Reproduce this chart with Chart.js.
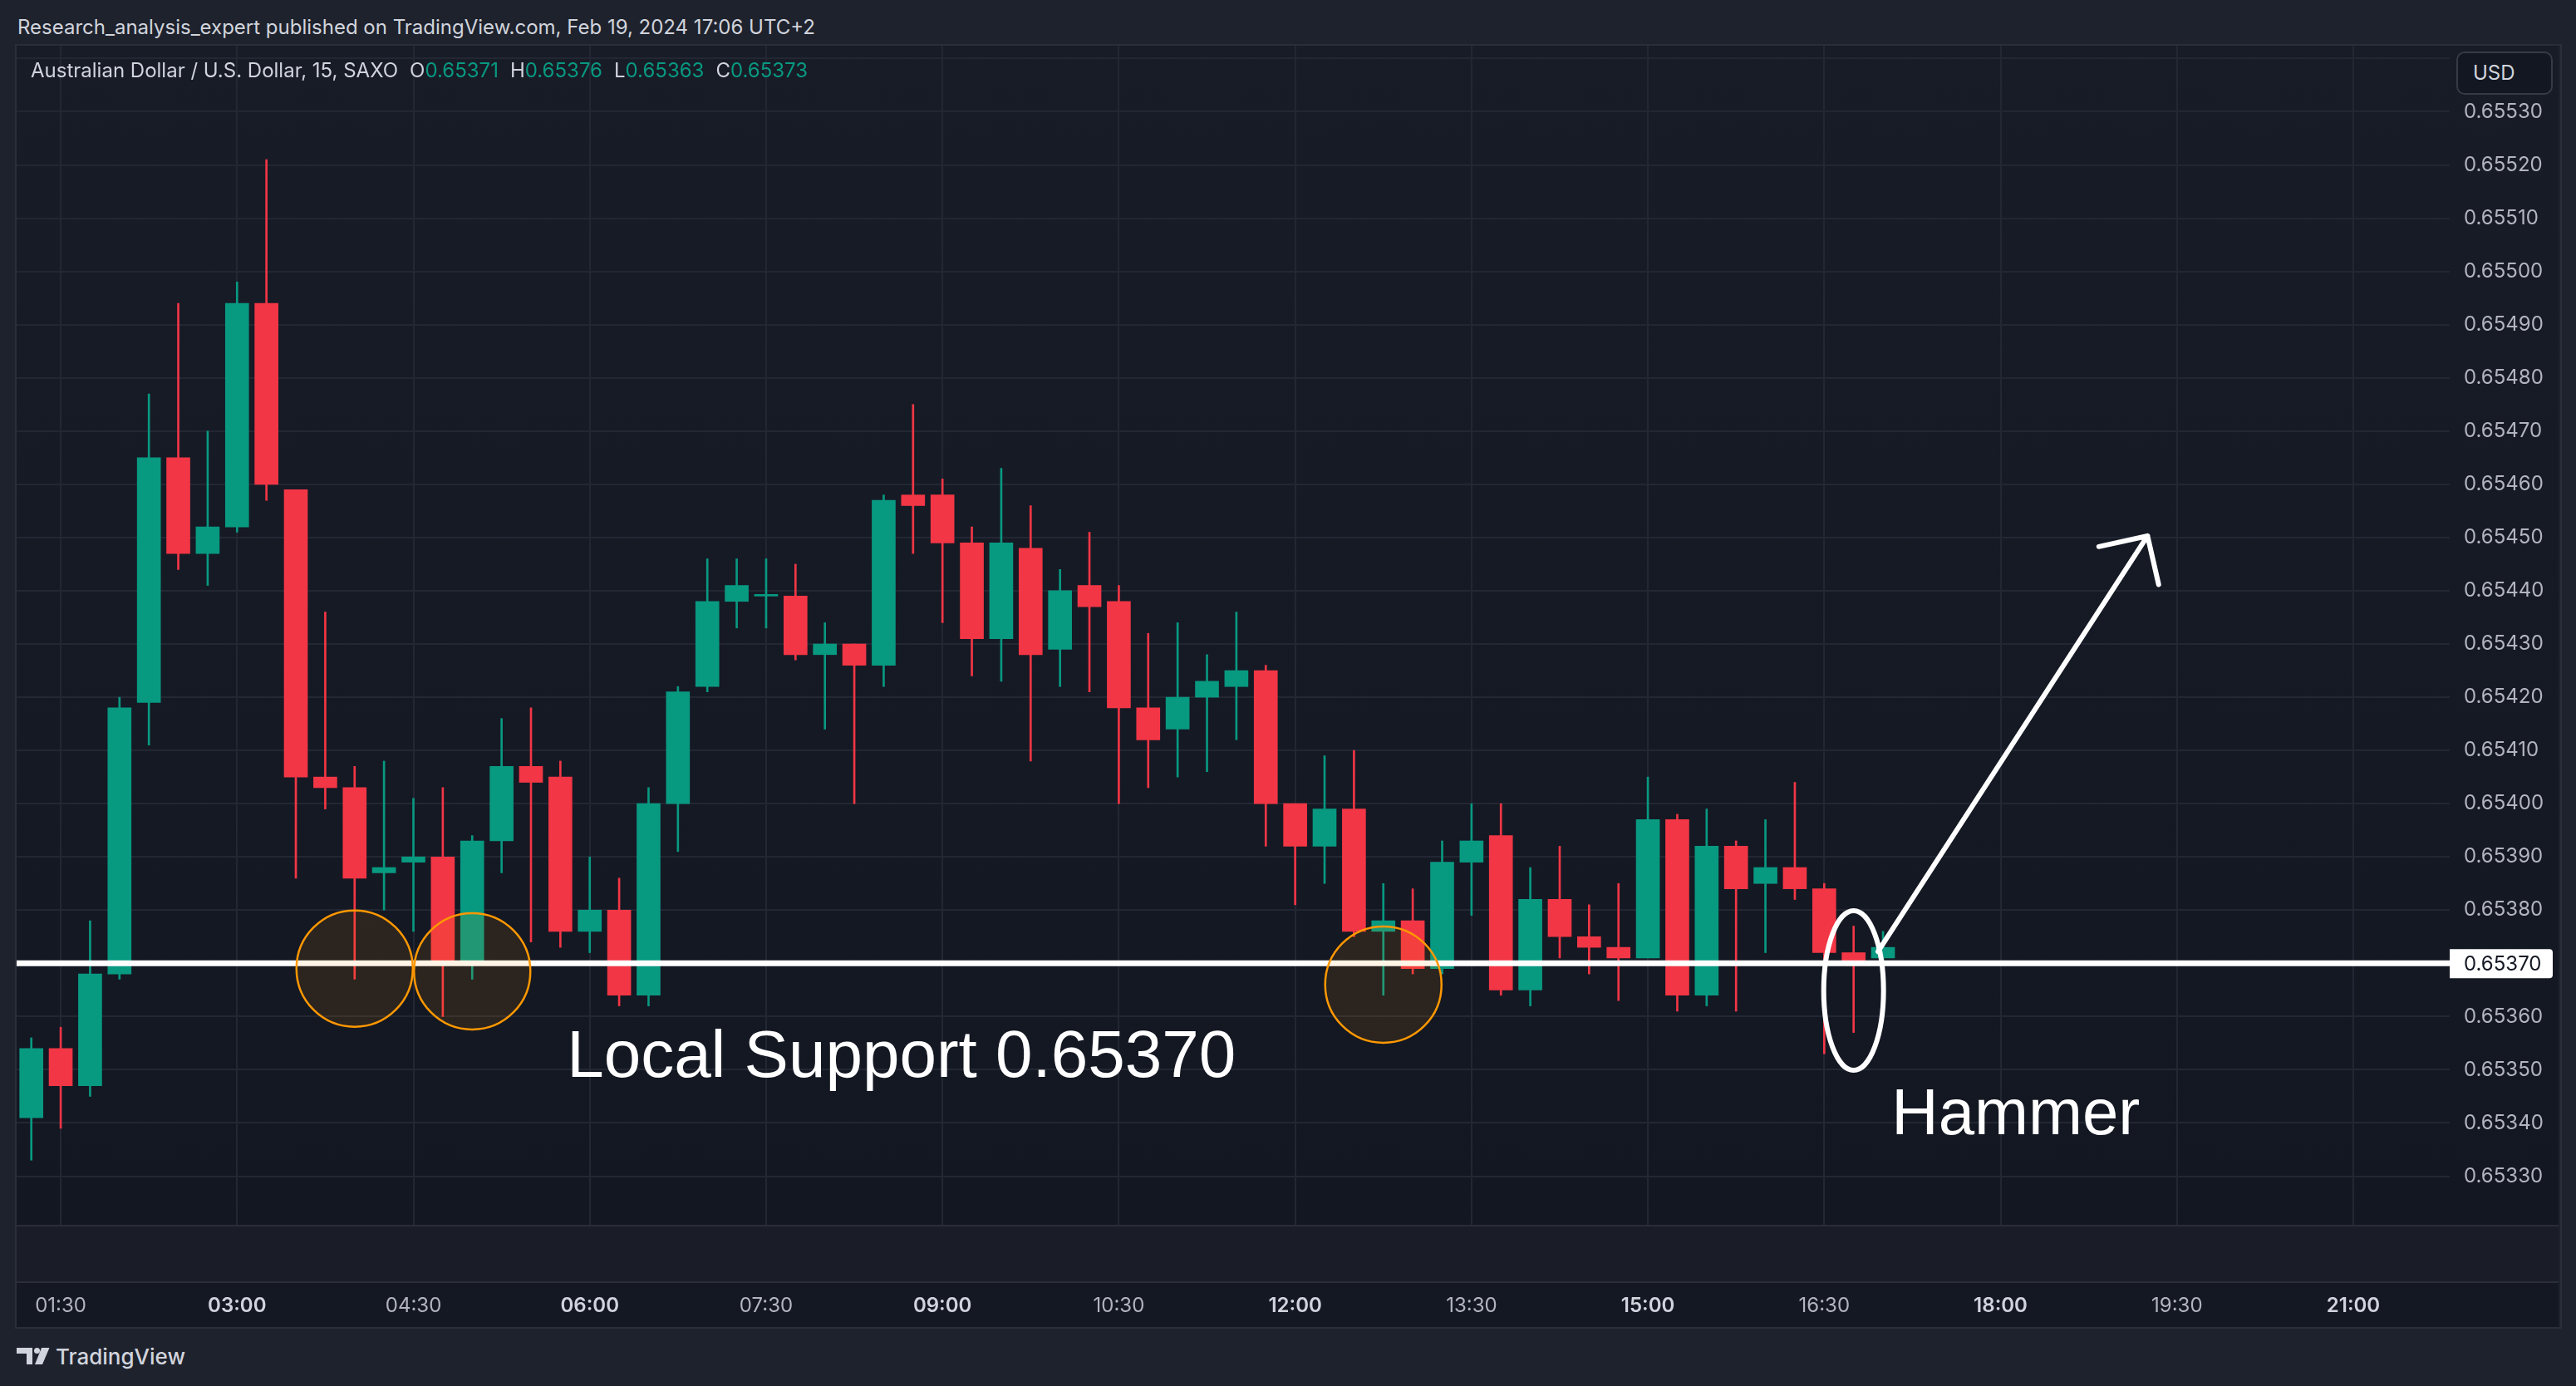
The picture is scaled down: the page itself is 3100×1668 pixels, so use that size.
<!DOCTYPE html>
<html>
<head>
<meta charset="utf-8">
<script src="https://cdn.jsdelivr.net/npm/chart.js@4.4.1/dist/chart.umd.min.js"></script>
<style>
  html, body { margin: 0; padding: 0; }
  body { width: 3100px; height: 1668px; background: #1e222d; position: relative; overflow: hidden; font-family: Inter, "Noto Sans", sans-serif; }
  .abs { position: absolute; }
  #header { left: 21px; top: 19px; font-size: 24px; line-height: 28px; color: #d1d4dc; white-space: nowrap; }
  #frame { left: 18px; top: 53px; width: 3061px; height: 1542px; border: 2px solid #2a2e39; }
  #pane { left: 20px; top: 55px; width: 3059px; height: 1419px; background: linear-gradient(#181c27, #131722); }
  .hline { left: 20px; width: 3059px; height: 2px; background: #2a2e39; }
  #subpane { left: 20px; top: 1476px; width: 3059px; height: 66px; background: #1a1d28; }
  #timeaxis { left: 20px; top: 1544px; width: 3059px; height: 53px; background: #141823; }
  #legend { left: 37px; top: 71px; font-size: 24px; line-height: 28px; color: #d1d4dc; white-space: nowrap; }
  #legend .v { color: #089981; }
  #legend .g { margin-left: 14px; }
  #usd { left: 2956px; top: 62px; width: 116px; height: 52px; box-sizing: border-box; border: 2px solid #363a45; border-radius: 10px; background: #131722; color: #d1d4dc; font-size: 24px; line-height: 48px; padding-left: 18px; }
  #chart { left: 20px; top: 55px; }
  #logo { left: 20px; top: 1622px; }
  #logotext { left: 67px; top: 1618px; font-size: 26px; line-height: 30px; font-weight: 500; color: #d1d4dc; }
</style>
</head>
<body>
<div id="header" class="abs">Research_analysis_expert published on TradingView.com, Feb 19, 2024 17:06 UTC+2</div>
<div id="frame" class="abs"></div>
<div id="pane" class="abs"></div>
<div class="abs hline" style="top:1474px"></div>
<div id="subpane" class="abs"></div>
<div class="abs hline" style="top:1542px"></div>
<div id="timeaxis" class="abs"></div>
<canvas id="chart" class="abs" width="3060" height="1542"></canvas>
<div id="legend" class="abs">Australian Dollar / U.S. Dollar, 15, SAXO<span class="g">O<span class="v">0.65371</span></span><span class="g">H<span class="v">0.65376</span></span><span class="g">L<span class="v">0.65363</span></span><span class="g">C<span class="v">0.65373</span></span></div>
<div id="usd" class="abs">USD</div>
<svg id="logo" class="abs" width="40" height="20" viewBox="0 0 40 20">
  <path d="M0 0H19V20H12V7H0Z" fill="#d1d4dc"/>
  <circle cx="24.5" cy="3.5" r="3.5" fill="#d1d4dc"/>
  <path d="M30 0H39.5L31 20H22Z" fill="#d1d4dc"/>
</svg>
<div id="logotext" class="abs">TradingView</div>

<script>
// 15 minute candles, AUD/USD (SAXO), Feb 19 2024
const times = ["01:15","01:30","01:45","02:00","02:15","02:30","02:45","03:00","03:15","03:30","03:45",
  "04:00","04:15","04:30","04:45","05:00","05:15","05:30","05:45","06:00","06:15","06:30","06:45",
  "07:00","07:15","07:30","07:45","08:00","08:15","08:30","08:45","09:00","09:15","09:30","09:45",
  "10:00","10:15","10:30","10:45","11:00","11:15","11:30","11:45","12:00","12:15","12:30","12:45",
  "13:00","13:15","13:30","13:45","14:00","14:15","14:30","14:45","15:00","15:15","15:30","15:45",
  "16:00","16:15","16:30","16:45","17:00"];

const opens = [0.65341,0.65354,0.65347,0.65368,0.65419,0.65465,0.65447,0.65452,0.65494,0.65459,
  0.65405,0.65403,0.65387,0.65389,0.65390,0.65370,0.65393,0.65407,0.65405,0.65376,
  0.65380,0.65364,0.65400,0.65422,0.65438,0.65439,0.65439,0.65428,0.65430,0.65426,
  0.65458,0.65458,0.65449,0.65431,0.65448,0.65429,0.65441,0.65438,0.65418,0.65414,
  0.65420,0.65422,0.65425,0.65400,0.65392,0.65399,0.65376,0.65378,0.65369,0.65389,
  0.65394,0.65365,0.65382,0.65375,0.65373,0.65371,0.65397,0.65364,0.65392,0.65385,
  0.65388,0.65384,0.65372,0.65371];
const highs = [0.65356,0.65358,0.65378,0.65420,0.65477,0.65494,0.65470,0.65498,0.65521,0.65459,
  0.65436,0.65407,0.65408,0.65401,0.65403,0.65394,0.65416,0.65418,0.65408,0.65390,
  0.65386,0.65403,0.65422,0.65446,0.65446,0.65446,0.65445,0.65434,0.65430,0.65458,
  0.65475,0.65461,0.65452,0.65463,0.65456,0.65444,0.65451,0.65441,0.65432,0.65434,
  0.65428,0.65436,0.65426,0.65400,0.65409,0.65410,0.65385,0.65384,0.65393,0.65400,
  0.65400,0.65388,0.65392,0.65381,0.65385,0.65405,0.65398,0.65399,0.65393,0.65397,
  0.65404,0.65385,0.65377,0.65376];
const lows = [0.65333,0.65339,0.65345,0.65367,0.65411,0.65444,0.65441,0.65451,0.65457,0.65386,
  0.65399,0.65367,0.65380,0.65376,0.65360,0.65367,0.65387,0.65374,0.65373,0.65372,
  0.65362,0.65362,0.65391,0.65421,0.65433,0.65433,0.65427,0.65414,0.65400,0.65422,
  0.65447,0.65434,0.65424,0.65423,0.65408,0.65422,0.65421,0.65400,0.65403,0.65405,
  0.65406,0.65412,0.65392,0.65381,0.65385,0.65375,0.65364,0.65368,0.65368,0.65379,
  0.65364,0.65362,0.65371,0.65368,0.65363,0.65371,0.65361,0.65362,0.65361,0.65372,
  0.65382,0.65353,0.65357,0.65363];
const closes = [0.65354,0.65347,0.65368,0.65418,0.65465,0.65447,0.65452,0.65494,0.65460,0.65405,
  0.65403,0.65386,0.65388,0.65390,0.65370,0.65393,0.65407,0.65404,0.65376,0.65380,
  0.65364,0.65400,0.65421,0.65438,0.65441,0.65439,0.65428,0.65430,0.65426,0.65457,
  0.65456,0.65449,0.65431,0.65449,0.65428,0.65440,0.65437,0.65418,0.65412,0.65420,
  0.65423,0.65425,0.65400,0.65392,0.65399,0.65376,0.65378,0.65369,0.65389,0.65393,
  0.65365,0.65382,0.65375,0.65373,0.65371,0.65397,0.65364,0.65392,0.65384,0.65388,
  0.65384,0.65372,0.65370,0.65373];

// axis labels (time ticks sit on candle slots, every 6th bar from 01:30)
const timeTicks = ["01:30","03:00","04:30","06:00","07:30","09:00","10:30","12:00","13:30","15:00","16:30","18:00","19:30","21:00"];
const timeSlots = [1,7,13,19,25,31,37,43,49,55,61,67,73,79];
const majorTicks = ["03:00","06:00","09:00","12:00","15:00","18:00","21:00"];
const priceTicks = [0.6533,0.6534,0.6535,0.6536,0.6537,0.6538,0.6539,0.6540,0.6541,0.6542,0.6543,
  0.6544,0.6545,0.6546,0.6547,0.6548,0.6549,0.6550,0.6551,0.6552,0.6553,0.6554];
const hiddenPriceLabels = [0.6554]; // sits under the USD badge

// drawings on the chart
const supportLevel = 0.6537;
const touchSlots = [11, 15, 46];
const touchPrices = [0.65369, 0.653685, 0.65366];
const hammerMark = [62, 0.653649];
const arrowFrom = [62.83, 0.653722];
const arrowTo = [72.0, 0.654503];
const supportText = ["Local Support 0.65370", 18.22, 0.653487, 80];
const hammerText = ["Hammer", 63.29, 0.653379, 78];

const GREEN = "#089981";
const RED = "#f23645";
const candleColors = closes.map((c, i) => c >= opens[i] ? GREEN : RED);

const xMin = -0.5, xMax = 82.28;
const yMin = 0.6532087, yMax = 0.6554241;

const noPadding = s => { s.paddingLeft = s.paddingRight = s.paddingTop = s.paddingBottom = 0; };

const drawings = {
  id: "drawings",
  afterDatasetsDraw(chart) {
    const { ctx, scales: { x, y } } = chart;
    ctx.save();
    ctx.strokeStyle = "#ffffff";
    ctx.lineWidth = 6;
    ctx.lineCap = "round";
    ctx.lineJoin = "round";

    // hammer ellipse
    ctx.beginPath();
    ctx.ellipse(x.getPixelForValue(hammerMark[0]), y.getPixelForValue(hammerMark[1]), 36, 96, 0, 0, Math.PI * 2);
    ctx.stroke();

    // arrow
    const x0 = x.getPixelForValue(arrowFrom[0]), y0 = y.getPixelForValue(arrowFrom[1]);
    const x1 = x.getPixelForValue(arrowTo[0]), y1 = y.getPixelForValue(arrowTo[1]);
    const back = Math.atan2(y0 - y1, x0 - x1);
    ctx.beginPath();
    ctx.moveTo(x0, y0);
    ctx.lineTo(x1, y1);
    ctx.moveTo(x1 + 60 * Math.cos(back + 0.78), y1 + 60 * Math.sin(back + 0.78));
    ctx.lineTo(x1, y1);
    ctx.lineTo(x1 + 60 * Math.cos(back - 0.8), y1 + 60 * Math.sin(back - 0.8));
    ctx.stroke();

    // text labels
    ctx.fillStyle = "#ffffff";
    ctx.textBaseline = "alphabetic";
    ctx.textAlign = "left";
    [supportText, hammerText].forEach(t => {
      ctx.font = t[3] + 'px "Liberation Sans"';
      ctx.fillText(t[0], x.getPixelForValue(t[1]), y.getPixelForValue(t[2]));
    });
    ctx.restore();
  },
  afterDraw(chart) {
    const { ctx, chartArea, scales: { y } } = chart;
    const py = y.getPixelForValue(supportLevel);
    ctx.save();
    ctx.fillStyle = "#ffffff";
    ctx.beginPath();
    ctx.roundRect(chartArea.right, py - 17, 124, 35, [0, 4, 4, 0]);
    ctx.fill();
    ctx.fillStyle = "#131722";
    ctx.font = "24px Inter";
    ctx.textBaseline = "middle";
    ctx.fillText(supportLevel.toFixed(5), chartArea.right + 17, py + 1);
    ctx.restore();
  }
};

new Chart(document.getElementById("chart"), {
  type: "bar",
  data: {
    datasets: [
      {
        type: "line",
        data: touchSlots.map((s, i) => ({ x: s, y: touchPrices[i] })),
        showLine: false,
        pointRadius: 70,
        pointHoverRadius: 70,
        pointBackgroundColor: "rgba(255,152,0,0.1)",
        pointBorderColor: "#ff9800",
        pointBorderWidth: 2.5,
        order: 0
      },
      {
        type: "line",
        data: [{ x: xMin, y: supportLevel }, { x: xMax, y: supportLevel }],
        borderColor: "#ffffff",
        borderWidth: 7,
        pointRadius: 0,
        order: 1
      },
      {
        data: times.map((t, i) => ({ x: i, y: [opens[i], closes[i]] })),
        backgroundColor: candleColors,
        barThickness: 28,
        minBarLength: 2,
        grouped: false,
        order: 2
      },
      {
        data: times.map((t, i) => ({ x: i, y: [lows[i], highs[i]] })),
        backgroundColor: candleColors,
        barThickness: 2,
        grouped: false,
        order: 3
      }
    ]
  },
  options: {
    responsive: false,
    animation: false,
    devicePixelRatio: 1,
    layout: { padding: 0, autoPadding: false },
    plugins: { legend: { display: false }, tooltip: { enabled: false } },
    scales: {
      x: {
        type: "linear",
        min: xMin,
        max: xMax,
        offset: false,
        afterBuildTicks: s => { s.ticks = timeSlots.map(v => ({ value: v })); },
        afterFit: s => { s.height = 123; noPadding(s); },
        grid: { color: "#232733", lineWidth: 2, drawTicks: false, offset: false },
        border: { display: false },
        ticks: {
          autoSkip: false,
          maxRotation: 0,
          padding: 83,
          callback: (v, i) => timeTicks[i],
          color: c => majorTicks.includes(timeTicks[c.index]) ? "#d1d4dc" : "#b2b5be",
          font: c => ({ family: "Inter", size: 24, weight: majorTicks.includes(timeTicks[c.index]) ? "600" : "400" })
        }
      },
      y: {
        type: "linear",
        position: "right",
        min: yMin,
        max: yMax,
        afterBuildTicks: s => { s.ticks = priceTicks.map(v => ({ value: v })); },
        afterFit: s => { s.width = 132; noPadding(s); },
        grid: { color: "#232733", lineWidth: 2, drawTicks: false },
        border: { display: false },
        ticks: {
          padding: 17,
          color: "#b2b5be",
          font: { family: "Inter", size: 24 },
          callback: v => hiddenPriceLabels.includes(v) ? "" : v.toFixed(5)
        }
      }
    }
  },
  plugins: [drawings]
});
</script>
</body>
</html>
